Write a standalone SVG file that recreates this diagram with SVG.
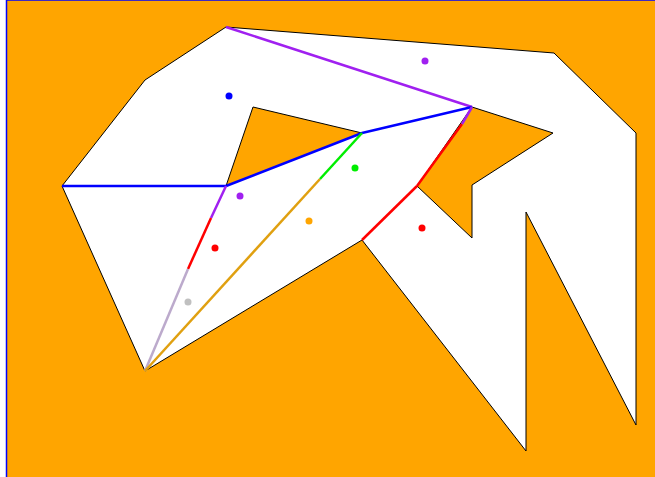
<svg xmlns="http://www.w3.org/2000/svg" width="655" height="477" viewBox="0 0 655 477">
<style>
.poly{fill:#ffffff;stroke:#000000;stroke-width:1;fill-rule:evenodd;stroke-linejoin:miter}
.e{fill:none;stroke-width:2.5;stroke-linecap:butt}
.d{stroke:none}
</style>
<rect x="6.5" y="0" width="670" height="500" fill="#ffa500" stroke="#0000ff" stroke-width="1.5"/>
<g id="polygon">
<path class="poly" d="M226,27 L554,53 L636,133 L636,425 L526,212 L526,451 L362,240 L145,371 L62,186 L145,80 Z M253,107 L362,133 L226,186 Z M472,107 L553,133 L472,185 L472,238 L417,186 Z"/>
</g>
<g id="connectors">
<line class="e" x1="226" y1="27" x2="472" y2="107" stroke="#a020f0"/>
<line class="e" x1="62" y1="186" x2="226" y2="186" stroke="#0000ff"/>
<line class="e" x1="226" y1="186" x2="362" y2="133" stroke="#0000ff"/>
<line class="e" x1="362" y1="133" x2="472" y2="107" stroke="#0000ff"/>
<line class="e" x1="226" y1="186" x2="211" y2="218" stroke="#a020f0"/>
<line class="e" x1="211" y1="218" x2="188" y2="269" stroke="#ff0000"/>
<line class="e" x1="188" y1="269" x2="145" y2="371" stroke="#bcaacc"/>
<line class="e" x1="145" y1="371" x2="320" y2="179" stroke="#e0a010"/>
<line class="e" x1="320" y1="179" x2="362" y2="133" stroke="#00ee00"/>
<line class="e" x1="362" y1="240" x2="417" y2="186" stroke="#ff0000"/>
<line class="e" x1="417" y1="186" x2="462" y2="124" stroke="#ff0000"/>
<line class="e" x1="462" y1="124" x2="472" y2="107" stroke="#a020f0"/>
</g>
<g id="dots">
<circle class="d" cx="229" cy="96" r="3.5" fill="#0000ff"/>
<circle class="d" cx="425" cy="61" r="3.5" fill="#a020f0"/>
<circle class="d" cx="355" cy="168" r="3.5" fill="#00ee00"/>
<circle class="d" cx="240" cy="196" r="3.5" fill="#a020f0"/>
<circle class="d" cx="309" cy="221" r="3.5" fill="#ffa500"/>
<circle class="d" cx="215" cy="248" r="3.5" fill="#ff0000"/>
<circle class="d" cx="422" cy="228" r="3.5" fill="#ff0000"/>
<circle class="d" cx="188" cy="302" r="3.5" fill="#c0c0c0"/>
</g>
</svg>
